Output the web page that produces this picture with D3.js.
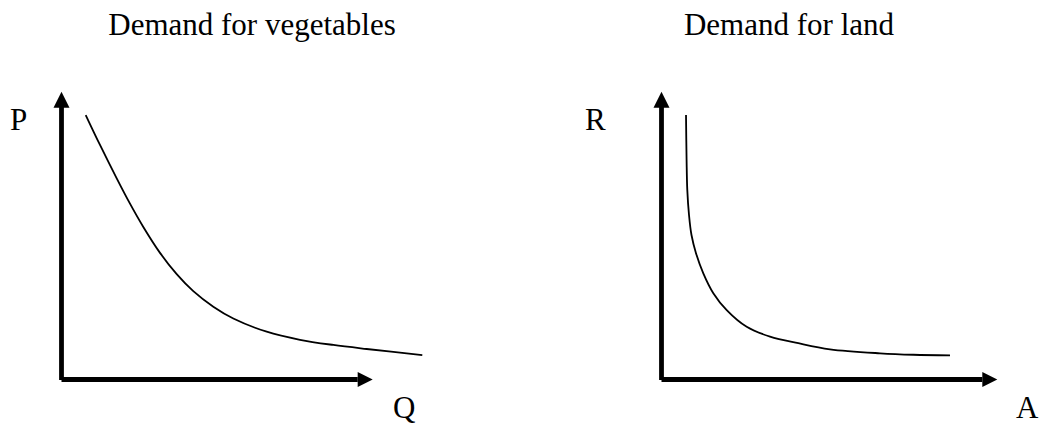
<!DOCTYPE html>
<html>
<head>
<meta charset="utf-8">
<script src="https://cdn.jsdelivr.net/npm/d3@7"></script>
<style>
html,body{margin:0;padding:0;background:#fff;}
svg{display:block;}
text{font-family:"Liberation Serif","Times New Roman",serif;fill:#000;}
</style>
</head>
<body>
<svg id="chart" width="1042" height="426"></svg>
<script>
// ---- data ----
const titles = ["Demand for vegetables", "Demand for land"];
const yLabels = ["P", "R"];
const xLabels = ["Q", "A"];
// Demand for vegetables (quantity, price) on a 0-100 axis scale
const vegQ = [7.78, 12.37, 17.74, 22.01, 26.29, 31.65, 37.02, 42.35, 48.78, 55.21, 65.94, 76.64, 87.34, 98.07, 115.94];
const vegP = [91.9, 81.5, 69.9, 61.1, 53.0, 44.0, 36.6, 30.7, 25.3, 21.2, 16.6, 13.8, 12.0, 10.6, 8.5];
// Demand for land (area, rent)
const landA = [7.3, 7.47, 7.68, 8.19, 8.93, 10.27, 12.45, 15.43, 19.42, 25.37, 32.31, 40.74, 50.18, 65.07, 74.99, 85.91];
const landR = [91.9, 76.3, 65.9, 57.2, 50.2, 43.9, 36.9, 30.0, 24.1, 18.3, 14.9, 12.6, 10.5, 9.1, 8.6, 8.4];

const svg = d3.select("#chart");

const panels = [
  {title: titles[0], yl: yLabels[0], xl: xLabels[0], xs: vegQ, ys: vegP,
   xr: [61.5, 372.7], yr: [379.5, 91.7], titleX: 252, ylX: 10, xlX: 393},
  {title: titles[1], yl: yLabels[1], xl: xLabels[1], xs: landA, ys: landR,
   xr: [661.5, 997.3], yr: [379.5, 91.7], titleX: 789, ylX: 585, xlX: 1016}
];

panels.forEach(p => {
  const x = d3.scaleLinear().domain([0, 100]).range(p.xr);
  const y = d3.scaleLinear().domain([0, 100]).range(p.yr);
  const g = svg.append("g");
  const aw = 16, ah = 8; // arrow length, half width

  // y axis
  g.append("line")
    .attr("x1", x(0)).attr("y1", y(0) + 0.5)
    .attr("x2", x(0)).attr("y2", y(100) + aw - 1)
    .attr("stroke", "#000").attr("stroke-width", 4.8);
  g.append("path")
    .attr("d", `M${x(0)},${y(100)}L${x(0) - ah},${y(100) + aw}L${x(0) + ah},${y(100) + aw}Z`)
    .attr("fill", "#000");

  // x axis
  g.append("line")
    .attr("x1", x(0)).attr("y1", y(0))
    .attr("x2", x(100) - aw + 1).attr("y2", y(0))
    .attr("stroke", "#000").attr("stroke-width", 4.8);
  g.append("path")
    .attr("d", `M${x(100)},${y(0)}L${x(100) - aw + 1},${y(0) - 7.5}L${x(100) - aw + 1},${y(0) + 7.5}Z`)
    .attr("fill", "#000");

  // curve
  const pts = p.xs.map((v, i) => [v, p.ys[i]]);
  const line = d3.line().x(d => x(d[0])).y(d => y(d[1])).curve(d3.curveCatmullRom.alpha(0.5));
  g.append("path")
    .attr("d", line(pts))
    .attr("fill", "none").attr("stroke", "#000").attr("stroke-width", 1.8);

  // texts
  g.append("text").attr("x", p.titleX).attr("y", 35)
    .attr("text-anchor", "middle").attr("font-size", 31).text(p.title);
  g.append("text").attr("x", p.ylX).attr("y", 130)
    .attr("font-size", 31).text(p.yl);
  g.append("text").attr("x", p.xlX).attr("y", 418)
    .attr("font-size", 31).text(p.xl);
});
</script>
</body>
</html>
